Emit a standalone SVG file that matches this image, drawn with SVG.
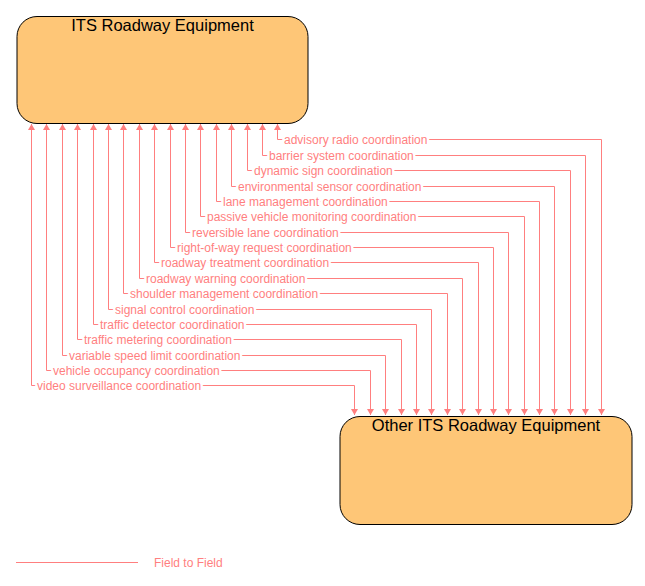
<svg xmlns="http://www.w3.org/2000/svg" width="645" height="586" viewBox="0 0 645 586">
<style>
.box{fill:#fec677;stroke:#000;stroke-width:1}
.title{font-family:"Liberation Sans",Arial,sans-serif;font-size:16.5px;fill:#000;text-anchor:middle}
.flow{fill:none;stroke:#ff7f7f;stroke-width:1;marker-start:url(#arr);marker-end:url(#arr)}
.lbl{font-family:"Liberation Sans",Arial,sans-serif;font-size:12px;fill:#ff7f7f;stroke:#fff;stroke-width:5;paint-order:stroke;stroke-linejoin:round}
.leg{font-family:"Liberation Sans",Arial,sans-serif;font-size:12px;fill:#ff7f7f}
</style>
<defs>
<marker id="arr" viewBox="0 0 6 7" refX="6" refY="3.5" markerWidth="6" markerHeight="7" markerUnits="userSpaceOnUse" orient="auto-start-reverse">
<path d="M0,0 L6,3.5 L0,7 z" fill="#ff7f7f"/>
</marker>
</defs>
<rect width="645" height="586" fill="#fff"/>
<g id="its-roadway-equipment">
<rect class="box" x="17" y="16.5" width="291" height="107" rx="20" ry="20"/>
<text class="title" x="162.5" y="31">ITS Roadway Equipment</text>
</g>
<g id="other-its-roadway-equipment">
<rect class="box" x="340" y="416.5" width="292" height="108" rx="20" ry="20"/>
<text class="title" x="486" y="431">Other ITS Roadway Equipment</text>
</g>
<g id="connectors">
<path class="flow" d="M277.5,124 V139.5 H601.5 V415"/>
<path class="flow" d="M262.5,124 V155.5 H585.5 V415"/>
<path class="flow" d="M247.5,124 V170.5 H570.5 V415"/>
<path class="flow" d="M231.5,124 V186.5 H554.5 V415"/>
<path class="flow" d="M216.5,124 V201.5 H539.5 V415"/>
<path class="flow" d="M200.5,124 V216.5 H524.5 V415"/>
<path class="flow" d="M185.5,124 V232.5 H508.5 V415"/>
<path class="flow" d="M170.5,124 V247.5 H493.5 V415"/>
<path class="flow" d="M154.5,124 V262.5 H478.5 V415"/>
<path class="flow" d="M139.5,124 V278.5 H462.5 V415"/>
<path class="flow" d="M123.5,124 V293.5 H447.5 V415"/>
<path class="flow" d="M108.5,124 V309.5 H431.5 V415"/>
<path class="flow" d="M93.5,124 V324.5 H416.5 V415"/>
<path class="flow" d="M77.5,124 V339.5 H401.5 V415"/>
<path class="flow" d="M62.5,124 V355.5 H385.5 V415"/>
<path class="flow" d="M46.5,124 V370.5 H370.5 V415"/>
<path class="flow" d="M31.5,124 V385.5 H354.5 V415"/>
<text class="lbl" x="284" y="143.5">advisory radio coordination</text>
<text class="lbl" x="269" y="159.5">barrier system coordination</text>
<text class="lbl" x="254" y="174.5">dynamic sign coordination</text>
<text class="lbl" x="238" y="190.5">environmental sensor coordination</text>
<text class="lbl" x="223" y="205.5">lane management coordination</text>
<text class="lbl" x="207" y="220.5">passive vehicle monitoring coordination</text>
<text class="lbl" x="192" y="236.5">reversible lane coordination</text>
<text class="lbl" x="177" y="251.5">right-of-way request coordination</text>
<text class="lbl" x="161" y="266.5">roadway treatment coordination</text>
<text class="lbl" x="146" y="282.5">roadway warning coordination</text>
<text class="lbl" x="130" y="297.5">shoulder management coordination</text>
<text class="lbl" x="115" y="313.5">signal control coordination</text>
<text class="lbl" x="100" y="328.5">traffic detector coordination</text>
<text class="lbl" x="84" y="343.5">traffic metering coordination</text>
<text class="lbl" x="69" y="359.5">variable speed limit coordination</text>
<text class="lbl" x="53" y="374.5">vehicle occupancy coordination</text>
<text class="lbl" x="37" y="389.5">video surveillance coordination</text>
</g>
<g id="legend">
<line x1="16" y1="562.5" x2="138" y2="562.5" stroke="#ff7f7f" stroke-width="1"/>
<text class="leg" x="154" y="566.5">Field to Field</text>
</g>
</svg>
